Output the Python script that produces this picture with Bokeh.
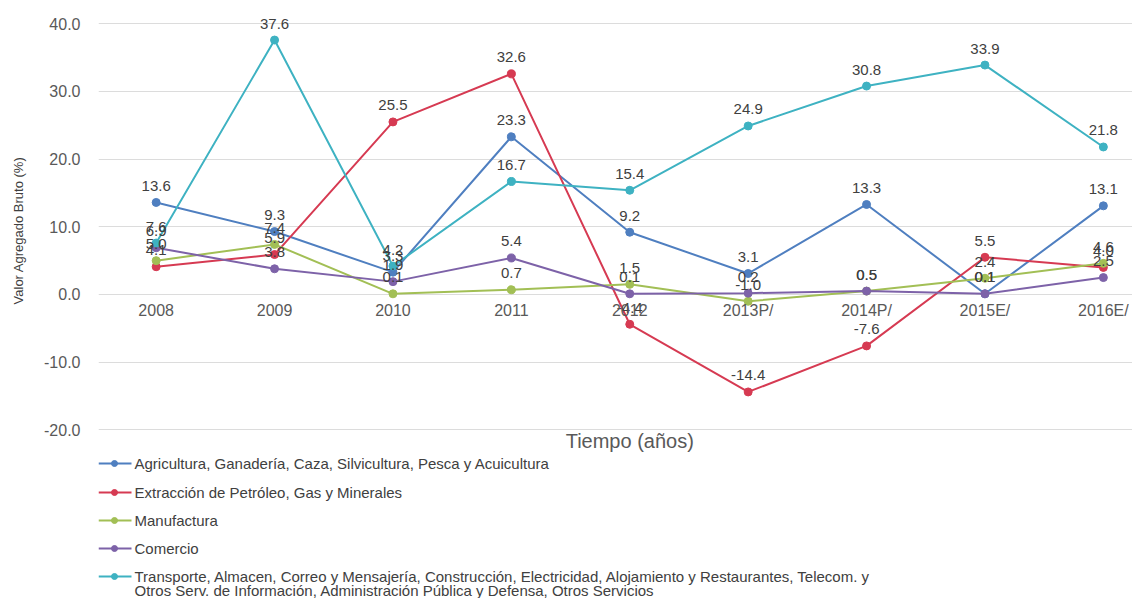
from bokeh.plotting import figure
from bokeh.models import Range1d, FixedTicker, PrintfTickFormatter
from bokeh.layouts import column
from bokeh.core.properties import value
from bokeh.embed import file_html
from bokeh.resources import INLINE

# ---------------- data ----------------
categories = ["2008", "2009", "2010", "2011", "2012", "2013P/", "2014P/", "2015E/", "2016E/"]
agricultura = [13.6, 9.3, 3.3, 23.3, 9.2, 3.1, 13.3, 0.1, 13.1]
extraccion = [4.1, 5.9, 25.5, 32.6, -4.4, -14.4, -7.6, 5.5, 4.0]
manufactura = [5.0, 7.4, 0.1, 0.7, 1.5, -1.0, 0.5, 2.4, 4.6]
comercio = [6.9, 3.8, 1.9, 5.4, 0.1, 0.2, 0.5, 0.1, 2.5]
transporte = [7.6, 37.6, 4.2, 16.7, 15.4, 24.9, 30.8, 33.9, 21.8]
y_ticks = [-20, -10, 0, 10, 20, 30, 40]

series_names = [
    ["Agricultura, Ganadería, Caza, Silvicultura, Pesca y Acuicultura"],
    ["Extracción de Petróleo, Gas y Minerales"],
    ["Manufactura"],
    ["Comercio"],
    ["Transporte, Almacen, Correo y Mensajería, Construcción,  Electricidad, Alojamiento y Restaurantes, Telecom. y",
     "Otros Serv. de Información, Administración Pública y Defensa, Otros Servicios"],
]
series_values = [agricultura, extraccion, manufactura, comercio, transporte]
colors = ["#4F7FC0", "#D63A52", "#A2BF55", "#7D62A8", "#3EB2C2"]

FONT = value("Liberation Sans")
xs = list(range(len(categories)))
Y_START, Y_END = -23.35, 42.26
LEFT = 98
FW = 1034

# ---------------- main chart ----------------
p = figure(frame_width=FW, frame_height=444,
           x_range=Range1d(-0.487, -0.487 + FW / 118.4), y_range=Range1d(Y_START, Y_END),
           x_axis_location=None, output_backend="svg", toolbar_location=None,
           min_border_left=LEFT, min_border_right=0, min_border_top=8, min_border_bottom=0)
p.outline_line_color = None
p.xgrid.visible = False
p.ygrid.ticker = FixedTicker(ticks=y_ticks)
p.ygrid.grid_line_color = "#dcdcdc"
p.ygrid.grid_line_width = 1

ax = p.yaxis[0]
ax.ticker = FixedTicker(ticks=y_ticks)
ax.formatter = PrintfTickFormatter(format="%.1f")
ax.axis_line_color = None
ax.major_tick_line_color = None
ax.minor_tick_line_color = None
ax.major_label_standoff = 12
ax.major_label_text_font = "Liberation Sans"
ax.major_label_text_font_size = "16px"
ax.major_label_text_color = "#595959"
ax.axis_label = "Valor Agregado Bruto (%)"
ax.axis_label_text_font = "Liberation Sans"
ax.axis_label_text_font_style = "normal"
ax.axis_label_text_font_size = "13px"
ax.axis_label_text_color = "#404040"
ax.axis_label_standoff = 15

for vals, col in zip(series_values, colors):
    p.line(xs, vals, line_color=col, line_width=2)
    p.scatter(xs, vals, size=8, fill_color=col, line_color=col)

for vals in series_values:
    p.text(xs, vals, text=["%.1f" % v for v in vals], text_align="center",
           text_baseline="middle", y_offset=-16.5, text_font=FONT,
           text_font_size="15px", text_color="#404040")

# category labels sit at the zero line
p.text(xs, [0] * len(xs), text=categories, text_align="center", text_baseline="middle",
       y_offset=16, text_font=FONT, text_font_size="16px", text_color="#595959")

# axis title
p.text([(len(xs) - 1) / 2], [Y_START], text=["Tiempo (años)"], text_align="center",
       text_baseline="middle", y_offset=-12, text_font=FONT, text_font_size="20px",
       text_color="#595959")

# ---------------- legend ----------------
lf = figure(frame_width=FW, frame_height=146, x_range=Range1d(98, 98 + FW),
            y_range=Range1d(598, 452), x_axis_location=None, y_axis_location=None,
            output_backend="svg", toolbar_location=None,
            min_border_left=LEFT, min_border_right=0, min_border_top=0, min_border_bottom=0)
lf.outline_line_color = None
lf.grid.visible = False

row_y = [463, 492, 520, 548, 576]
for names, col, yy in zip(series_names, colors, row_y):
    lf.line([98, 131], [yy, yy], line_color=col, line_width=2)
    lf.scatter([114], [yy], size=6, fill_color=col, line_color=col)
    lf.text([134] * len(names), [yy + 14 * i for i in range(len(names))], text=names,
            text_align="left", text_baseline="middle", text_font=FONT,
            text_font_size="15px", text_color="#404040")

layout = column(p, lf, spacing=0)
open("out.html", "w").write(file_html(layout, INLINE))
